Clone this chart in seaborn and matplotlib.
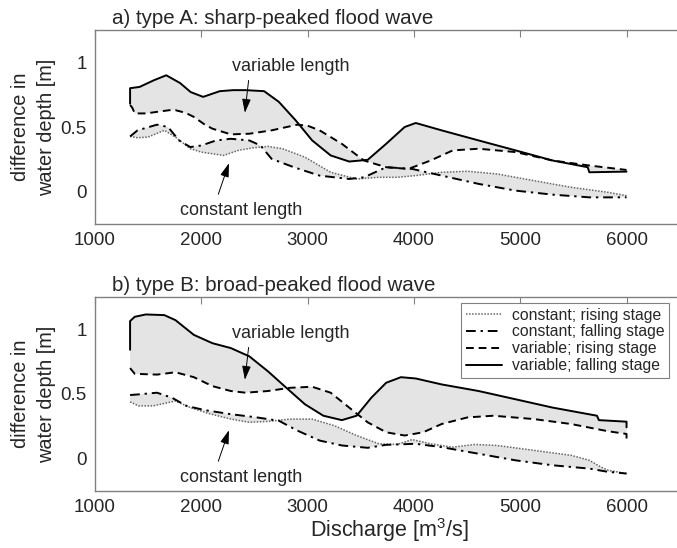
import numpy as np
import pandas as pd
import matplotlib
matplotlib.use("Agg")
import matplotlib.pyplot as plt
import seaborn as sns

# ---------------- data (Discharge [m3/s], difference in water depth [m]) ----------------
# panel a) type A: sharp-peaked flood wave
qa_var_fall = [1330, 1330, 1420, 1550, 1670, 1800, 1900, 2017, 2174, 2300, 2417, 2591, 2730, 2887,
               3043, 3217, 3391, 3565, 3739, 3913, 4017, 4261, 4609, 4957, 5304, 5635, 5650, 6000]
da_var_fall = [0.68, 0.80, 0.81, 0.86, 0.90, 0.84, 0.77, 0.733, 0.777, 0.785, 0.785, 0.777, 0.694, 0.552,
               0.396, 0.28, 0.233, 0.246, 0.37, 0.50, 0.531, 0.474, 0.396, 0.319, 0.241, 0.189, 0.15, 0.155]
qa_var_rise = [1330, 1350, 1374, 1480, 1583, 1700, 1757, 1850, 1930, 2030, 2104, 2278, 2452, 2661,
               2904, 3000, 3113, 3322, 3530, 3739, 3948, 4157, 4365, 4609, 4957, 5304, 5652, 6000]
da_var_rise = [0.67, 0.65, 0.605, 0.605, 0.617, 0.63, 0.63, 0.61, 0.578, 0.52, 0.487, 0.443, 0.448, 0.474,
               0.518, 0.51, 0.474, 0.37, 0.241, 0.189, 0.176, 0.241, 0.319, 0.332, 0.306, 0.241, 0.202, 0.168]
qa_con_fall = [1330, 1400, 1583, 1687, 1791, 1896, 2000, 2139, 2278, 2452, 2557, 2661, 2870, 3113,
               3391, 3530, 3739, 3983, 4261, 4609, 4957, 5304, 5652, 6000]
da_con_fall = [0.427, 0.474, 0.518, 0.5, 0.396, 0.345, 0.357, 0.396, 0.409, 0.396, 0.357, 0.254, 0.189, 0.124,
               0.098, 0.111, 0.189, 0.176, 0.124, 0.06, 0.008, -0.023, -0.044, -0.044]
qa_con_rise = [1330, 1400, 1500, 1652, 1757, 1896, 2000, 2209, 2348, 2487, 2626, 2765, 2974, 3217,
               3461, 3670, 3843, 4017, 4261, 4504, 4783, 5130, 5478, 5826, 6000]
da_con_rise = [0.427, 0.417, 0.422, 0.474, 0.422, 0.332, 0.306, 0.28, 0.319, 0.339, 0.35, 0.332, 0.267, 0.15,
               0.098, 0.111, 0.111, 0.124, 0.15, 0.158, 0.137, 0.085, 0.034, -0.005, -0.031]

# panel b) type B: broad-peaked flood wave
qb_var_fall = [1330, 1330, 1374, 1478, 1652, 1757, 1930, 2104, 2278, 2452, 2626, 2800, 2974, 3148,
               3322, 3461, 3600, 3739, 3878, 4017, 4261, 4609, 4957, 5304, 5722, 5740, 6000, 6000]
db_var_fall = [0.842, 1.064, 1.097, 1.115, 1.11, 1.071, 0.957, 0.893, 0.855, 0.791, 0.676, 0.548, 0.421, 0.332,
               0.298, 0.332, 0.472, 0.587, 0.63, 0.62, 0.574, 0.523, 0.459, 0.395, 0.332, 0.298, 0.286, 0.242]
qb_var_rise = [1330, 1374, 1583, 1757, 1930, 2104, 2278, 2417, 2626, 2835, 3043, 3217, 3391, 3565,
               3739, 3913, 4087, 4261, 4504, 4748, 5130, 5478, 5826, 6000, 6000]
db_var_rise = [0.70, 0.656, 0.65, 0.668, 0.63, 0.561, 0.523, 0.51, 0.523, 0.548, 0.556, 0.51, 0.395, 0.281,
               0.204, 0.179, 0.204, 0.268, 0.319, 0.332, 0.306, 0.268, 0.212, 0.191, 0.128]
qb_con_fall = [1330, 1409, 1583, 1722, 1861, 2035, 2278, 2522, 2730, 2904, 3113, 3322, 3565, 3739,
               4017, 4261, 4609, 4957, 5304, 5652, 5826, 6000]
db_con_fall = [0.492, 0.497, 0.51, 0.472, 0.408, 0.375, 0.344, 0.319, 0.293, 0.217, 0.14, 0.102, 0.084, 0.107,
               0.115, 0.089, 0.038, -0.013, -0.051, -0.077, -0.102, -0.115]
qb_con_rise = [1330, 1409, 1548, 1757, 1896, 2070, 2278, 2452, 2626, 2835, 3043, 3252, 3461, 3670,
               3843, 3983, 4157, 4365, 4574, 4783, 5130, 5478, 5652, 5757, 5826, 6000]
db_con_rise = [0.439, 0.408, 0.408, 0.446, 0.395, 0.349, 0.306, 0.281, 0.288, 0.306, 0.306, 0.255, 0.179, 0.115,
               0.11, 0.148, 0.115, 0.089, 0.11, 0.102, 0.064, 0.026, -0.013, -0.064, -0.089, -0.115]

titles = ["a) type A: sharp-peaked flood wave", "b) type B: broad-peaked flood wave"]
legend_labels = ["constant; rising stage", "constant; falling stage",
                 "variable; rising stage", "variable; falling stage"]
xticks = [1000, 2000, 3000, 4000, 5000, 6000]
yticks = [0, 0.5, 1]

# ---------------- style ----------------
sns.set_theme(style="white")
plt.rcParams["font.family"] = ["Liberation Sans", "DejaVu Sans"]
plt.rcParams["mathtext.fontset"] = "custom"
plt.rcParams["mathtext.rm"] = "Liberation Sans"

FILL = "#e4e4e4"
SPINE = "#808080"

fig = plt.figure(figsize=(6.77, 5.48), dpi=100)
ax_a = fig.add_axes([95 / 677, 1 - 224 / 548, 590 / 677, 194 / 548])
ax_b = fig.add_axes([95 / 677, 1 - 491 / 548, 590 / 677, 194 / 548])

panels = [
    (ax_a, (qa_con_rise, da_con_rise), (qa_con_fall, da_con_fall),
     (qa_var_rise, da_var_rise), (qa_var_fall, da_var_fall)),
    (ax_b, (qb_con_rise, db_con_rise), (qb_con_fall, db_con_fall),
     (qb_var_rise, db_var_rise), (qb_var_fall, db_var_fall)),
]

styles = [
    dict(color="#666666", linestyle=(0, (1, 1)), linewidth=1.1),
    dict(color="black", linestyle=(0, (5, 2.5, 1.2, 2.5)), linewidth=1.4),
    dict(color="black", linestyle=(0, (4, 2.5)), linewidth=1.4),
    dict(color="black", linestyle="-", linewidth=1.4),
]

for i, (ax, cr, cf, vr, vf) in enumerate(panels):
    # shaded areas between rising and falling stage
    for (q1, d1), (q2, d2) in [(cr, cf), (vr, vf)]:
        px = np.concatenate([np.asarray(q1, float), np.asarray(q2, float)[::-1]])
        py = np.concatenate([np.asarray(d1, float), np.asarray(d2, float)[::-1]])
        ax.fill(px, py, color=FILL, linewidth=0, zorder=1)
    for (q, d), st, lab in zip([cr, cf, vr, vf], styles, legend_labels):
        df = pd.DataFrame({"Q": q, "d": d})
        sns.lineplot(data=df, x="Q", y="d", ax=ax, estimator=None, sort=False,
                     label=lab, zorder=3, **st)

    ax.set_xlim(1000, 6550)
    ax.set_ylim(-0.25, 1.25)
    ax.set_xticks(xticks)
    ax.set_yticks(yticks)
    ax.set_yticklabels(["0", "0.5", "1"])
    ax.tick_params(axis="both", direction="in", length=5, width=0.8, color=SPINE,
                   labelsize=13.5, pad=6, top=True, right=False)
    for name, s in ax.spines.items():
        s.set_color(SPINE)
        s.set_linewidth(1.0)
        s.set_visible(name != "right")
    ax.set_xlabel("")
    ax.set_ylabel("difference in\nwater depth [m]", fontsize=14.3, labelpad=3, linespacing=1.5)
    ax.text(0.029, 1.012, titles[i], transform=ax.transAxes, fontsize=14.8,
            ha="left", va="bottom")

    ax.annotate("", xy=(2410, 0.61), xytext=(2445, 0.86),
                arrowprops=dict(arrowstyle="-|>,head_length=0.7,head_width=0.22",
                                color="black", lw=0.7, shrinkA=0, shrinkB=0))
    ax.text(2846, 0.965, "variable length", fontsize=13, ha="center", va="center")
    ax.annotate("", xy=(2260, 0.22), xytext=(2160, -0.02),
                arrowprops=dict(arrowstyle="-|>,head_length=0.7,head_width=0.22",
                                color="black", lw=0.7, shrinkA=0, shrinkB=0))
    ax.text(2375, -0.145, "constant length", fontsize=13, ha="center", va="center")

    if i == 0:
        ax.get_legend().remove()
    else:
        leg = ax.legend(loc="upper left", bbox_to_anchor=(0.621, 0.97), fontsize=11.3,
                        frameon=True, fancybox=False, framealpha=1, edgecolor=SPINE,
                        handlelength=2.3, handletextpad=0.6, labelspacing=0.12,
                        borderpad=0.3, borderaxespad=0)
        leg.get_frame().set_linewidth(0.8)

ax_b.set_xlabel("Discharge [m$^3$/s]", fontsize=15.5, labelpad=0)

fig.savefig("out.png", dpi=100)
